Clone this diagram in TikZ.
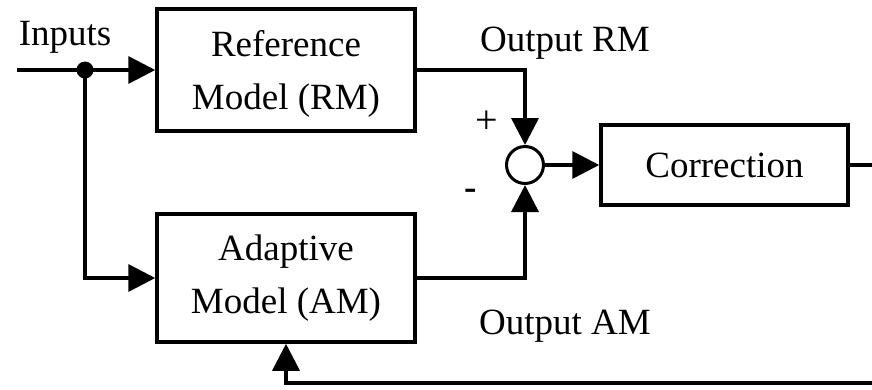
\documentclass[tikz,border=0pt]{standalone}
\usepackage{fontspec}
\setmainfont{Liberation Serif}
\usetikzlibrary{arrows.meta}
\begin{document}
\begin{tikzpicture}[x=1pt,y=-1pt,
  every node/.style={font=\fontsize{37}{53}\selectfont},
  blk/.style={draw,line width=3.5pt,rectangle,align=center,inner sep=0pt},
  ln/.style={line width=3.5pt},
  arr/.style={ln,-{Triangle[length=27pt,width=27pt]}},
  sumnode/.style={draw,circle,line width=3pt,minimum size=37pt,inner sep=0pt}]
\useasboundingbox (0,0) rectangle (872,389);
\node[blk,minimum width=258pt,minimum height=122pt,text depth=0pt,inner ysep=3pt] (rm) at (286,70) {Reference\\Model (RM)};
\node[blk,minimum width=258pt,minimum height=128pt] (am) at (286,278) {Adaptive\\Model (AM)};
\node[blk,minimum width=247pt,minimum height=80pt] (corr) at (724.5,165) {Correction};
\node[sumnode] (sum) at (525,165) {};
\coordinate (in) at (17,70);
\fill (85,70) circle (8.5pt);
\coordinate (dot) at (85,70);
\coordinate (out) at (872,165);
\coordinate (fb) at (872,383);
\node (inputs) at (65,37) {Inputs};
\node (orm) at (565,43) {Output RM};
\node (oam) at (565,326) {Output AM};
\node (plus) at (487,122) {\fontsize{40}{40}\selectfont +};
\node (minus) at (471,194) {\textbf{-}};
\draw[arr] (in) -- (rm.west);
\draw[arr] (dot) |- (am.west);
\draw[arr] (rm.east) -| (sum.north);
\draw[arr] (am.east) -| (sum.south);
\draw[arr] (sum.east) -- (corr.west);
\draw[ln] (corr.east) -- (out);
\draw[arr] (fb) -| (am.south);
\end{tikzpicture}
\end{document}
